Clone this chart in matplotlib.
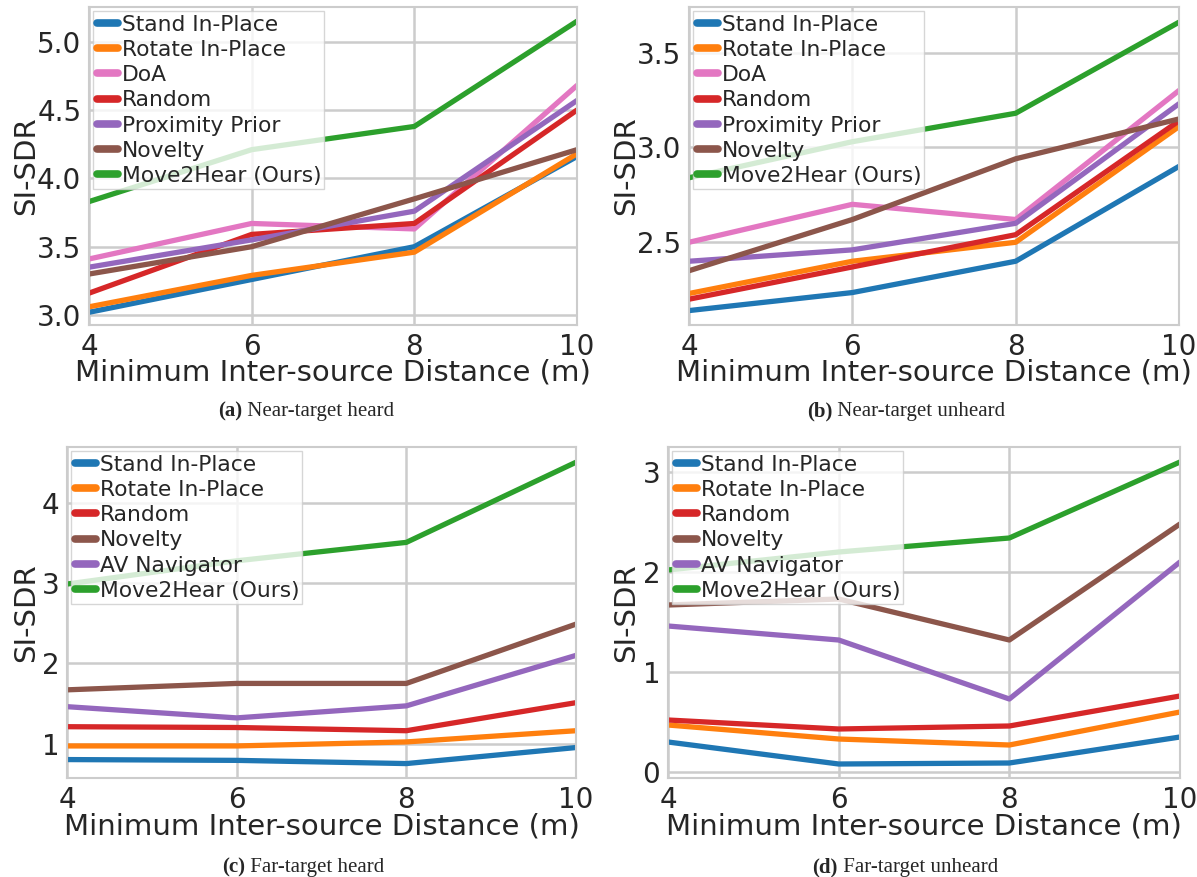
import numpy as np
import matplotlib
matplotlib.use("Agg")
import matplotlib.pyplot as plt
import seaborn as sns

sns.set_style("whitegrid")
plt.rcParams['font.family'] = ['DejaVu Sans']

dist = [4, 6, 8, 10]

# (a) near-target heard
a_stand = [3.02, 3.26, 3.50, 4.16]
a_rotate = [3.06, 3.29, 3.46, 4.18]
a_doa = [3.41, 3.67, 3.63, 4.68]
a_random = [3.16, 3.59, 3.67, 4.50]
a_prox = [3.35, 3.55, 3.76, 4.57]
a_novelty = [3.30, 3.50, 3.85, 4.21]
a_ours = [3.83, 4.21, 4.38, 5.15]

# (b) near-target unheard
b_stand = [2.14, 2.235, 2.40, 2.90]
b_rotate = [2.23, 2.40, 2.50, 3.11]
b_doa = [2.50, 2.70, 2.62, 3.30]
b_random = [2.20, 2.37, 2.54, 3.14]
b_prox = [2.40, 2.46, 2.60, 3.23]
b_novelty = [2.35, 2.62, 2.94, 3.15]
b_ours = [2.84, 3.03, 3.18, 3.66]

# (c) far-target heard
c_stand = [0.80, 0.79, 0.75, 0.95]
c_rotate = [0.97, 0.97, 1.02, 1.16]
c_random = [1.21, 1.20, 1.16, 1.51]
c_novelty = [1.67, 1.75, 1.75, 2.49]
c_avnav = [1.46, 1.32, 1.47, 2.10]
c_ours = [2.99, 3.28, 3.51, 4.51]

# (d) far-target unheard
d_stand = [0.30, 0.08, 0.09, 0.35]
d_rotate = [0.47, 0.33, 0.27, 0.60]
d_random = [0.52, 0.43, 0.46, 0.76]
d_novelty = [1.67, 1.73, 1.32, 2.48]
d_avnav = [1.46, 1.32, 0.73, 2.10]
d_ours = [2.02, 2.20, 2.34, 3.10]

C = {'stand': '#1f77b4', 'rotate': '#ff7f0e', 'doa': '#e377c2', 'random': '#d62728',
     'prox': '#9467bd', 'novelty': '#8c564b', 'avnav': '#9467bd', 'ours': '#2ca02c'}

W, H = 1197, 877

# axes box in pixels (left, right, top, bottom), ylabel right edge, xlabel top
panels = [
    ((89, 577, 7, 325), 40, 358, (2.927, 5.254), [3.0, 3.5, 4.0, 4.5, 5.0], '%.1f',
     [('Stand In-Place', a_stand, 'stand'), ('Rotate In-Place', a_rotate, 'rotate'),
      ('DoA', a_doa, 'doa'), ('Random', a_random, 'random'),
      ('Proximity Prior', a_prox, 'prox'), ('Novelty', a_novelty, 'novelty'),
      ('Move2Hear (Ours)', a_ours, 'ours')],
     'Near-target heard', '(a)', 306, 416),
    ((689, 1179, 7, 325), 640, 358, (2.064, 3.74), [2.5, 3.0, 3.5], '%.1f',
     [('Stand In-Place', b_stand, 'stand'), ('Rotate In-Place', b_rotate, 'rotate'),
      ('DoA', b_doa, 'doa'), ('Random', b_random, 'random'),
      ('Proximity Prior', b_prox, 'prox'), ('Novelty', b_novelty, 'novelty'),
      ('Move2Hear (Ours)', b_ours, 'ours')],
     'Near-target unheard', '(b)', 906, 416),
    ((67, 576, 447, 778), 40, 813, (0.57, 4.70), [1, 2, 3, 4], '%d',
     [('Stand In-Place', c_stand, 'stand'), ('Rotate In-Place', c_rotate, 'rotate'),
      ('Random', c_random, 'random'), ('Novelty', c_novelty, 'novelty'),
      ('AV Navigator', c_avnav, 'avnav'), ('Move2Hear (Ours)', c_ours, 'ours')],
     'Far-target heard', '(c)', 303, 872),
    ((668, 1180, 447, 778), 640, 813, (-0.06, 3.25), [0, 1, 2, 3], '%d',
     [('Stand In-Place', d_stand, 'stand'), ('Rotate In-Place', d_rotate, 'rotate'),
      ('Random', d_random, 'random'), ('Novelty', d_novelty, 'novelty'),
      ('AV Navigator', d_avnav, 'avnav'), ('Move2Hear (Ours)', d_ours, 'ours')],
     'Far-target unheard', '(d)', 905, 872),
]

fig = plt.figure(figsize=(W / 100, H / 100), dpi=100)
renderer = fig.canvas.get_renderer()
serif = ['Liberation Serif', 'DejaVu Serif']

for (x0, x1, y0, y1), ylab_x, xlab_y, ylim, yticks, fmt, series, cap, tag, cx, cy in panels:
    ax = fig.add_axes([x0 / W, 1 - y1 / H, (x1 - x0) / W, (y1 - y0) / H])
    for name, vals, key in series:
        ax.plot(dist, vals, color=C[key], linewidth=3.8, label=name)
    ax.set_xlim(4, 10)
    ax.set_ylim(*ylim)
    ax.set_xticks(dist)
    ax.set_yticks(yticks)
    ax.set_yticklabels([fmt % t for t in yticks])
    ax.tick_params(labelsize=20, pad=2, colors='#262626')
    ax.grid(True, color='#cccccc', linewidth=1.8)
    for s in ax.spines.values():
        s.set_color('#cccccc')
        s.set_linewidth(1.5)
    ax.set_xlabel('Minimum Inter-source Distance (m)', fontsize=21, color='#262626')
    ax.set_ylabel('SI-SDR', fontsize=21, color='#262626')
    ax.xaxis.set_label_coords(0.5, -(xlab_y - y1) / (y1 - y0))
    ax.yaxis.set_label_coords(-(x0 - ylab_x) / (x1 - x0), 0.5)
    leg = ax.legend(loc='upper left', fontsize=15.7, handlelength=1.0, handletextpad=0.15,
                    labelspacing=0.24, borderpad=0.15, borderaxespad=0.2,
                    frameon=True, framealpha=0.8, fancybox=False)
    for ln in leg.get_lines():
        ln.set_linewidth(5.5)
        ln.set_solid_capstyle('round')
    for t in leg.get_texts():
        t.set_color('#262626')

    # caption: bold tag followed by plain text, centred at cx
    t1 = fig.text(0, 1 - cy / H, tag, ha='left', va='baseline', fontsize=15,
                  fontweight='bold', family=serif)
    t2 = fig.text(0, 1 - cy / H, ' ' + cap, ha='left', va='baseline', fontsize=15,
                  family=serif)
    w1 = t1.get_window_extent(renderer).width
    w2 = t2.get_window_extent(renderer).width
    start = cx - (w1 + w2) / 2
    t1.set_x(start / W)
    t2.set_x((start + w1) / W)

fig.savefig('out.png', dpi=100)
